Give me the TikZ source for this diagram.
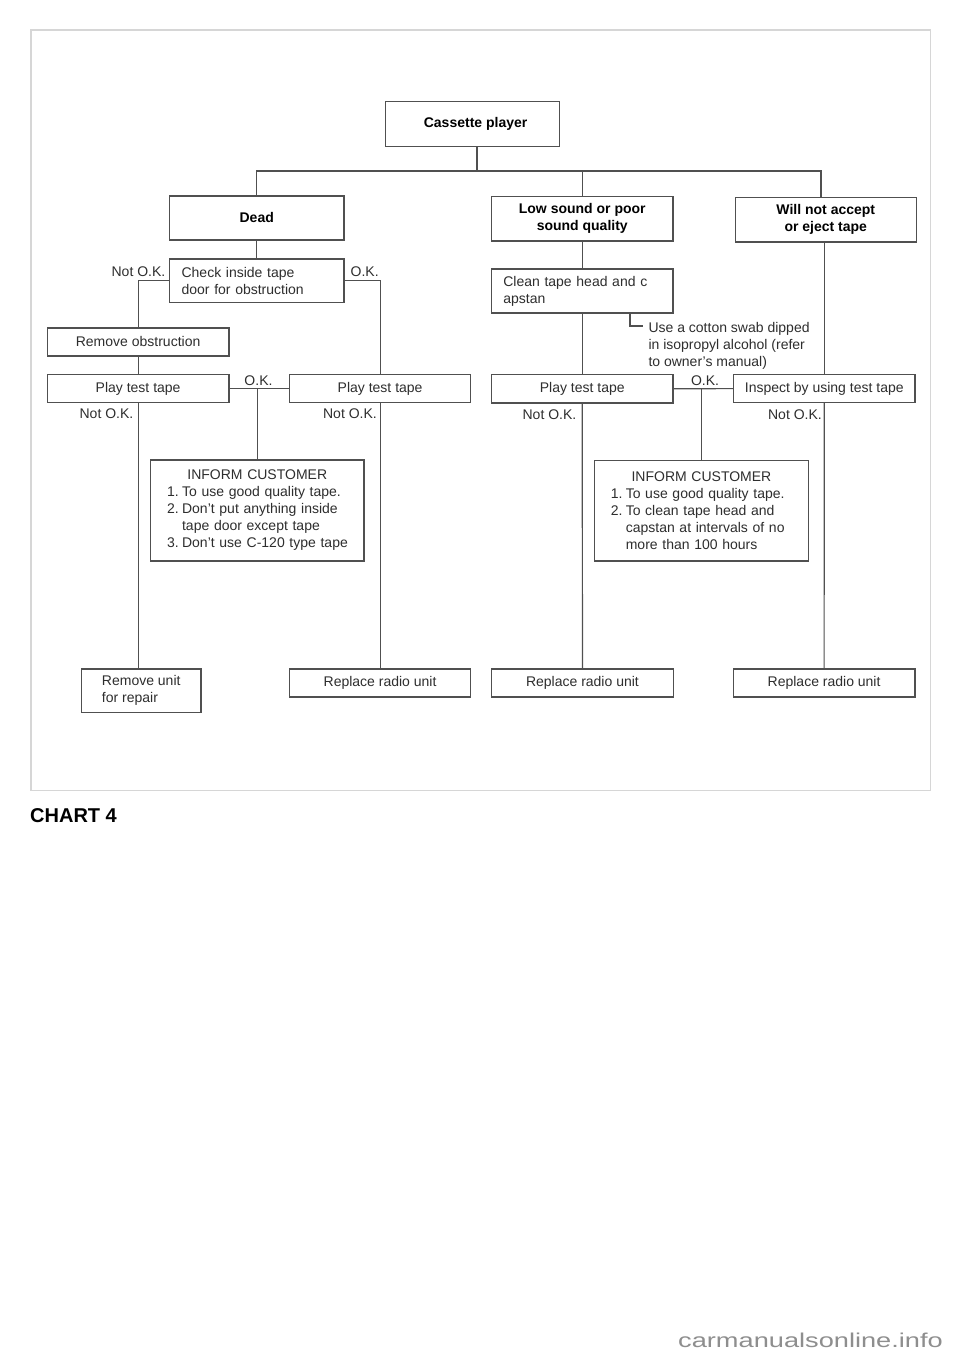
\documentclass[tikz,border=0pt]{standalone}
\usepackage{fontspec}
\setmainfont{Liberation Sans}
\usepackage{graphicx}
\definecolor{linec}{HTML}{505050}
\definecolor{txt}{HTML}{2E2E2E}
\definecolor{framec}{HTML}{D6D6D6}
\definecolor{wmc}{HTML}{8E8E8E}
\begin{document}
\begin{tikzpicture}[x=1pt,y=-1pt,
  every node/.style={font=\fontsize{14}{17}\selectfont},
  box/.style={draw=linec, line width=1.2pt, inner sep=0pt, text=txt, anchor=north west},
  bbox/.style={box, text=black, font=\bfseries\fontsize{14}{17}\selectfont, align=center},
  lbl/.style={inner sep=0pt, text=txt},
  conn/.style={draw=linec, line width=1.2pt}]
\useasboundingbox (0,0) rectangle (960,1358);
\fill[white] (0,0) rectangle (960,1358);
\draw[draw=framec, line width=1.5pt] (31,30) rectangle (930.5,790.5);

% boxes
\node[bbox, minimum width=174, minimum height=45] (cp) at (385,101) {\hspace*{6pt}Cassette player};
\node[bbox, minimum width=174.3, minimum height=44] (dead) at (169,195.3) {Dead};
\node[bbox, minimum width=181.3, minimum height=44.3] (low) at (491,196) {Low sound or poor\\sound quality};
\node[bbox, minimum width=181, minimum height=44.3] (will) at (734.7,197) {Will not accept\\or eject tape};

\node[box, minimum width=174.3, minimum height=43.7, inner xsep=12pt, text width=150.3pt, align=left] (check) at (169,258.3) {Check inside tape\\door for obstruction};
\node[box, minimum width=181.6, minimum height=28] (rem) at (46.7,327.3) {Remove obstruction};
\node[box, minimum width=181.6, minimum height=28] (play1) at (46.7,374) {Play test tape};
\node[box, minimum width=181, minimum height=28] (play2) at (289,374) {Play test tape};
\node[box, minimum width=213.3, minimum height=101, inner xsep=16.5pt, text width=180.3pt, align=left] (inform1) at (150,459.3) {\makebox[\linewidth]{INFORM CUSTOMER}\\
\mbox{\makebox[15pt][l]{1.}To use good quality tape.}\\
\mbox{\makebox[15pt][l]{2.}Don't put anything inside}\\
\mbox{\hspace*{15pt}tape door except tape}\\
\mbox{\makebox[15pt][l]{3.}Don't use C-120 type tape}};
\node[box, minimum width=119.3, minimum height=43.4, align=left] (unit) at (81,668.3) {Remove unit\\for repair};
\node[box, minimum width=181, minimum height=28] (rep1) at (289,668.3) {Replace radio unit};

\node[box, minimum width=181.3, minimum height=44, inner xsep=11.7pt, text width=157.9pt, align=left] (clean) at (491,268.3) {Clean tape head and c\\apstan};
\node[box, minimum width=181.3, minimum height=28.3] (play3) at (491,374) {Play test tape};
\node[box, minimum width=181.3, minimum height=28] (inspect) at (733,374) {Inspect by using test tape};
\node[box, minimum width=214.3, minimum height=100.3, inner xsep=16.5pt, text width=181.3pt, align=left] (inform2) at (593.7,460) {\makebox[\linewidth]{INFORM CUSTOMER}\\
\mbox{\makebox[15pt][l]{1.}To use good quality tape.}\\
\mbox{\makebox[15pt][l]{2.}To clean tape head and}\\
\mbox{\hspace*{15pt}capstan at intervals of no}\\
\mbox{\hspace*{15pt}more than 100 hours}};
\node[box, minimum width=181.7, minimum height=28] (rep2) at (491,668.3) {Replace radio unit};
\node[box, minimum width=181.6, minimum height=28] (rep3) at (732.7,668.3) {Replace radio unit};

% note
\node[lbl, anchor=base west, align=left] (note) at (648.3,366.5) {Use a cotton swab dipped\\in isopropyl alcohol (refer\\to owner's manual)};

% labels
\node[lbl, anchor=east] (nok1) at (165.5,272) {Not O.K.};
\node[lbl, anchor=west] (ok1) at (350.5,272) {O.K.};
\node[lbl] (ok2) at (258.5,380.3) {O.K.};
\node[lbl, anchor=east] (nok2) at (133.5,413.8) {Not O.K.};
\node[lbl, anchor=east] (nok3) at (377,413.8) {Not O.K.};
\node[lbl] (ok3) at (705,380.7) {O.K.};
\node[lbl, anchor=east] (nok4) at (576.5,414.5) {Not O.K.};
\node[lbl, anchor=east] (nok5) at (822,414.5) {Not O.K.};

% connectors
\coordinate (bus) at (477,171);
\coordinate (busR) at (821,171);
\coordinate (nbx) at (630,0);
\coordinate (nbend) at (643.3,326);
\draw[conn] (cp.south -| bus) -- (bus);
\draw[conn] (dead.north) |- (busR) -- (busR |- will.north);
\draw[conn] (low.north) -- (low.north |- bus);
\draw[conn] (dead.south) -- (check.north);
\draw[conn] (check.west) -| (rem.north);
\draw[conn] (check.east) -| (play2.north);
\draw[conn] (rem.south) -- (play1.north);
\draw[conn] (play1.east) -- (play2.west);
\draw[conn] (inform1.north) -- (inform1.north |- play1.east);
\draw[conn] (play1.south) -- (play1.south |- unit.north);
\draw[conn] (play2.south) -- (rep1.north);
\draw[conn] (low.south) -- (clean.north);
\draw[conn] (clean.south) -- (play3.north);
\draw[conn] (clean.south -| nbx) |- (nbend);
\draw[conn] (play3.east) -- (inspect.west);
\draw[conn] (inform2.north) -- (inform2.north |- play3.east);
\draw[conn] (play3.south) -- (rep2.north);
\draw[conn] (will.south -| inspect.north) -- (inspect.north);
\draw[conn] (inspect.south) -- (rep3.north);

% caption and watermark
\node[anchor=base west, inner sep=0pt, text=black, font=\bfseries\fontsize{20}{24}\selectfont] (chart) at (30,822) {CHART 4};
\node[anchor=base west, inner sep=0pt, text=wmc, font=\fontsize{20}{24}\selectfont] (wmark) at (678,1347.7) {\scalebox{1.36}[1]{carmanualsonline.info}};
\end{tikzpicture}
\end{document}
